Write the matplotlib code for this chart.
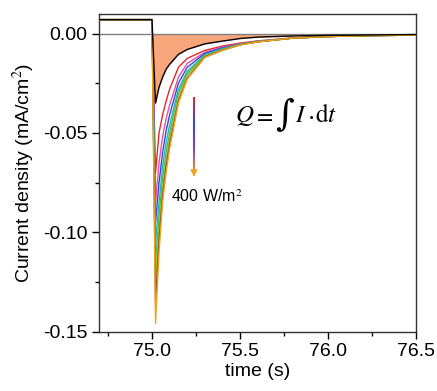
import numpy as np
import matplotlib
matplotlib.use('Agg')
import matplotlib.pyplot as plt
from matplotlib.collections import LineCollection
from matplotlib.colors import LinearSegmentedColormap
from matplotlib.ticker import MultipleLocator

plt.rcParams['font.family'] = ['Liberation Sans', 'DejaVu Sans']
plt.rcParams['mathtext.fontset'] = 'stix'

# time axis (s)
t = [74.7, 75.0, 75.02, 75.04, 75.06, 75.08, 75.1, 75.15, 75.2, 75.3, 75.4,
     75.5, 75.6, 75.8, 76.0, 76.25, 76.5]

# current density (mA/cm2), dark reference and increasing light intensity
dark = [0.007, 0.007, -0.035, -0.027, -0.022, -0.018, -0.0155, -0.0105, -0.0080,
        -0.0052, -0.0038, -0.0025, -0.0018, -0.0012, -0.0009, -0.0007, -0.0005]
red = [0.007, 0.007, -0.070, -0.050, -0.041, -0.034, -0.028, -0.017, -0.0125,
       -0.0085, -0.0063, -0.0048, -0.0037, -0.0022, -0.0015, -0.0010, -0.0008]
magenta = [0.007, 0.007, -0.085, -0.065, -0.052, -0.043, -0.036, -0.022, -0.015,
           -0.0095, -0.0068, -0.0051, -0.0039, -0.0022, -0.0015, -0.0010, -0.0008]
blue = [0.007, 0.007, -0.095, -0.075, -0.060, -0.049, -0.041, -0.025, -0.017,
        -0.0100, -0.0072, -0.0053, -0.0040, -0.0023, -0.0015, -0.0010, -0.0008]
cyan = [0.007, 0.007, -0.105, -0.085, -0.067, -0.055, -0.046, -0.028, -0.019,
        -0.0107, -0.0076, -0.0054, -0.0040, -0.0023, -0.0015, -0.0010, -0.0008]
green = [0.007, 0.007, -0.115, -0.092, -0.073, -0.060, -0.050, -0.030, -0.020,
         -0.0112, -0.0079, -0.0055, -0.0041, -0.0023, -0.0015, -0.0010, -0.0008]
olive = [0.007, 0.007, -0.125, -0.098, -0.078, -0.064, -0.053, -0.032, -0.021,
         -0.0116, -0.0082, -0.0056, -0.0041, -0.0023, -0.0015, -0.0010, -0.0008]
brown = [0.007, 0.007, -0.135, -0.104, -0.082, -0.067, -0.056, -0.034, -0.0225,
         -0.0118, -0.0084, -0.0057, -0.0042, -0.0023, -0.0015, -0.0010, -0.0008]
orange = [0.007, 0.007, -0.146, -0.110, -0.085, -0.070, -0.058, -0.035, -0.023,
          -0.0120, -0.0085, -0.0058, -0.0042, -0.0023, -0.0015, -0.0010, -0.0008]

light_series = [red, magenta, blue, cyan, green, olive, brown, orange]
light_colors = ['#e8262b', '#e64fa8', '#3347d6', '#21b5c8', '#3fc04a',
                '#a5b82a', '#8a4a1c', '#f0a11e']

fig, ax = plt.subplots(figsize=(4.37, 3.91), dpi=100)
fig.subplots_adjust(left=0.227, right=0.952, top=0.965, bottom=0.152)

tt = np.array(t)
dk = np.array(dark)
mask = tt >= 75.0
ax.fill_between(tt[mask], np.minimum(dk[mask], 0), 0, color='#f9a67c', lw=0, zorder=1)
ax.axhline(0, color='#808080', lw=1.0, zorder=2)

for y, c in zip(light_series, light_colors):
    ax.plot(t, y, color=c, lw=1.0, zorder=3)
ax.plot(t, dark, color='black', lw=1.0, zorder=4)

# gradient arrow
ay = np.linspace(-0.032, -0.071, 60)
ax_x = np.full_like(ay, 75.238)
pts = np.array([ax_x, ay]).T.reshape(-1, 1, 2)
segs = np.concatenate([pts[:-1], pts[1:]], axis=1)
cmap = LinearSegmentedColormap.from_list('arr', ['#e8262b', '#3347d6', '#8a3fb0', '#f0a11e'])
lc = LineCollection(segs, cmap=cmap, linewidths=1.5, zorder=5)
lc.set_array(np.linspace(0, 1, len(segs)))
ax.add_collection(lc)
ax.annotate('', xy=(75.238, -0.0735), xytext=(75.238, -0.069),
            arrowprops=dict(arrowstyle='-|>', color='#f0a11e', lw=1.2,
                            mutation_scale=9), zorder=6)

ax.text(75.11, -0.082, '400 W/m$^2$', fontsize=11.5, va='center', ha='left')

# Q = \int I . dt, glyph by glyph so the integral can be tall
base = -0.0446
ax.text(75.47, base, r'$Q$', fontsize=18, va='baseline', ha='left')
ax.text(75.575, base, r'$=$', fontsize=17, va='baseline', ha='left')
ax.text(75.70, -0.0405, '\u222b', fontsize=26, family='DejaVu Serif',
        va='center', ha='left')
ax.text(75.815, base, r'$I$', fontsize=18, va='baseline', ha='left')
ax.text(75.88, base, r'$\cdot$', fontsize=18, va='baseline', ha='left')
ax.text(75.925, base, r'$\mathrm{d}t$', fontsize=18, va='baseline', ha='left')

ax.set_xlim(74.7, 76.5)
ax.set_ylim(-0.15, 0.010)
ax.xaxis.set_major_locator(MultipleLocator(0.5))
ax.xaxis.set_minor_locator(MultipleLocator(0.25))
ax.yaxis.set_major_locator(MultipleLocator(0.05))
ax.yaxis.set_minor_locator(MultipleLocator(0.025))
ax.set_yticks([0.0, -0.05, -0.10, -0.15])
ax.set_yticklabels(['0.00', '-0.05', '-0.10', '-0.15'])
ax.set_xticks([75.0, 75.5, 76.0, 76.5])
ax.set_xticklabels(['75.0', '75.5', '76.0', '76.5'])
ax.tick_params(which='major', direction='out', length=5, width=1, labelsize=14,
               top=False, right=False)
ax.tick_params(which='minor', direction='out', length=3, width=1,
               top=False, right=False)
for s in ax.spines.values():
    s.set_linewidth(1.0)
    s.set_color('#333333')

ax.set_xlabel('time (s)', fontsize=14, labelpad=2)
ax.set_ylabel('Current density (mA/cm$^2$)', fontsize=14, labelpad=4)

plt.savefig('out.png', dpi=100)
